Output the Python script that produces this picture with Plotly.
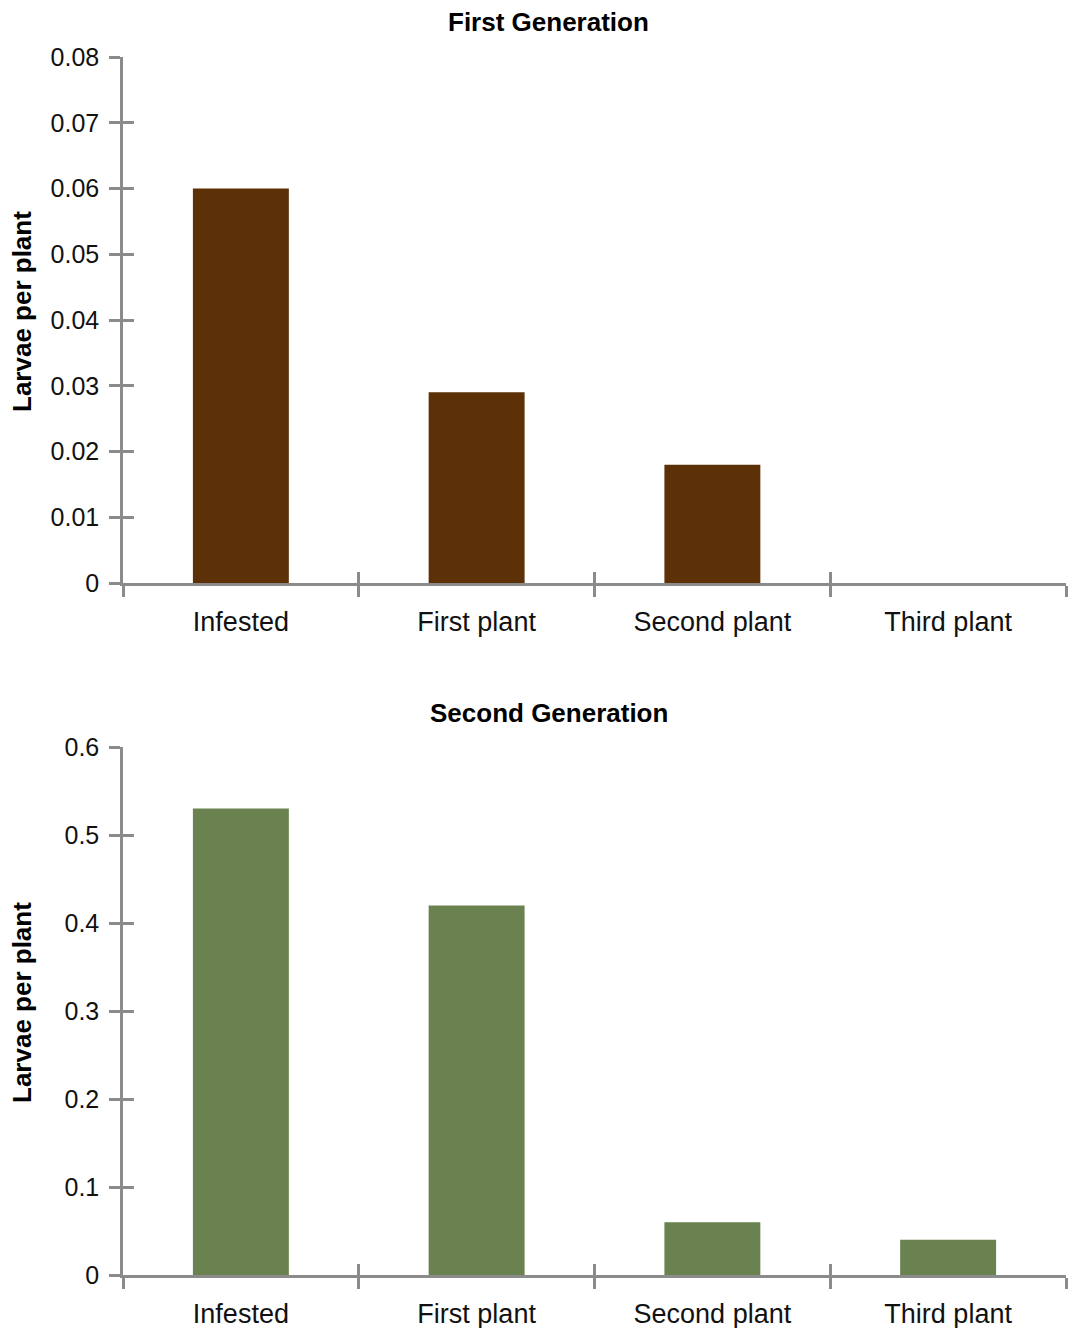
import plotly.graph_objects as go

# ---- data ----
categories = ["Infested", "First plant", "Second plant", "Third plant"]
gen1_values = [0.060, 0.029, 0.018, 0.0]
gen2_values = [0.53, 0.42, 0.06, 0.04]
gen1_ticks = [0, 0.01, 0.02, 0.03, 0.04, 0.05, 0.06, 0.07, 0.08]
gen1_ticktext = ["0", "0.01", "0.02", "0.03", "0.04", "0.05", "0.06", "0.07", "0.08"]
gen2_ticks = [0, 0.1, 0.2, 0.3, 0.4, 0.5, 0.6]
gen2_ticktext = ["0", "0.1", "0.2", "0.3", "0.4", "0.5", "0.6"]
titles = ["First Generation", "Second Generation"]
y_title = "Larvae per plant"

# ---- style ----
W, H = 1072, 1328
FONT = "Liberation Sans, Arial, Helvetica, sans-serif"
AX = "#8b8b8c"
BROWN = "#5c3108"
GREEN = "#6a8150"
LW = 2.5
xdom = [123 / W, 1066 / W]
ydom_top = [1 - 583 / H, 1 - 57 / H]
ydom_bot = [1 - 1275 / H, 1 - 747 / H]
BAR_W = 0.407

fig = go.Figure()

# visible bars
fig.add_trace(go.Bar(x=categories, y=gen1_values, marker=dict(color=BROWN, line=dict(width=0)),
                     width=BAR_W, xaxis="x", yaxis="y", showlegend=False, hoverinfo="x+y"))
fig.add_trace(go.Bar(x=categories, y=gen2_values, marker=dict(color=GREEN, line=dict(width=0)),
                     width=BAR_W, xaxis="x2", yaxis="y2", showlegend=False, hoverinfo="x+y"))
# invisible copies on overlay axes (to draw the inner half of crossing ticks)
for xa, ya, vals in [("x3", "y3", gen1_values), ("x4", "y4", gen2_values)]:
    fig.add_trace(go.Bar(x=categories, y=vals,
                         marker=dict(color="rgba(0,0,0,0)", line=dict(width=0)),
                         width=BAR_W, xaxis=xa, yaxis=ya, showlegend=False, hoverinfo="skip"))

tickfont = dict(family=FONT, size=25, color="#111111")
catfont = dict(family=FONT, size=27, color="#111111")

def xax(anchor, ticks, overlay=None, labels=True):
    d = dict(domain=xdom, anchor=anchor, type="category", categoryorder="array",
             categoryarray=categories, range=[-0.5, 3.5], tickson="boundaries",
             ticks=ticks, ticklen=11, tickwidth=LW, tickcolor=AX,
             showline=labels, linecolor=AX, linewidth=LW, showgrid=False, zeroline=False,
             showticklabels=labels, tickfont=catfont, ticklabelstandoff=13,
             automargin=False, fixedrange=True)
    if overlay:
        d["overlaying"] = overlay
    return d

def yax(anchor, dom, rng, tv, tt, ticks, overlay=None, labels=True):
    d = dict(domain=dom, anchor=anchor, range=rng, tickmode="array", tickvals=tv, ticktext=tt,
             ticks=ticks, ticklen=11, tickwidth=LW, tickcolor=AX,
             showline=labels, linecolor=AX, linewidth=LW, showgrid=False, zeroline=False,
             showticklabels=labels, tickfont=tickfont, ticklabelstandoff=5,
             automargin=False, fixedrange=True)
    if overlay:
        d["overlaying"] = overlay
    return d

fig.update_layout(
    template="none",
    width=W, height=H,
    margin=dict(l=0, r=0, t=0, b=0, pad=0),
    paper_bgcolor="white", plot_bgcolor="rgba(0,0,0,0)",
    bargap=0.593, barmode="overlay",
    showlegend=False,
    xaxis=xax("y", "outside"),
    yaxis=yax("x", ydom_top, [0, 0.08], gen1_ticks, gen1_ticktext, "outside"),
    xaxis2=xax("y2", "outside"),
    yaxis2=yax("x2", ydom_bot, [0, 0.6], gen2_ticks, gen2_ticktext, "outside"),
    xaxis3=xax("y3", "inside", overlay="x", labels=False),
    yaxis3=yax("x3", ydom_top, [0, 0.08], gen1_ticks, gen1_ticktext, "inside", overlay="y", labels=False),
    xaxis4=xax("y4", "inside", overlay="x2", labels=False),
    yaxis4=yax("x4", ydom_bot, [0, 0.6], gen2_ticks, gen2_ticktext, "inside", overlay="y2", labels=False),
)

title_font = dict(family=FONT, size=26, color="#000000", weight="bold")
for txt, yc in [(titles[0], 1 - 22 / H), (titles[1], 1 - 713 / H)]:
    fig.add_annotation(text=txt, xref="paper", yref="paper", x=548.5 / W, y=yc,
                       showarrow=False, xanchor="center", yanchor="middle", font=title_font)
for yc in [1 - 312 / H, 1 - 1003 / H]:
    fig.add_annotation(text=y_title, xref="paper", yref="paper", x=22 / W, y=yc,
                       showarrow=False, textangle=-90, xanchor="center", yanchor="middle",
                       font=title_font)

fig.write_html("out.html", config={"displayModeBar": False},
               post_script="document.body.style.margin='0';document.body.style.overflow='hidden';")
